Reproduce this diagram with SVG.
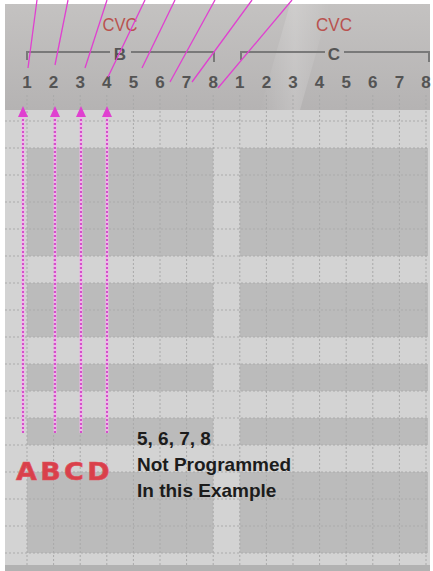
<svg xmlns="http://www.w3.org/2000/svg" width="433" height="571" viewBox="0 0 433 571">
<defs>
<linearGradient id="hdr" x1="0" y1="0" x2="0" y2="1">
<stop offset="0" stop-color="#c4c2c1"/>
<stop offset="1" stop-color="#b5b3b3"/>
</linearGradient>
<linearGradient id="streak" x1="0" y1="0" x2="1" y2="0">
<stop offset="0" stop-color="#ffffff" stop-opacity="0"/>
<stop offset="0.5" stop-color="#ffffff" stop-opacity="0.18"/>
<stop offset="1" stop-color="#ffffff" stop-opacity="0"/>
</linearGradient>
</defs>
<style>
.light{fill:#d3d3d3}
.dark{fill:#bbbbbb}
.vg{stroke:#a9a9a9;stroke-width:1;stroke-dasharray:2 2;fill:none}
.hg{stroke:#ababab;stroke-width:1;stroke-dasharray:2 2;fill:none}
.num{font-family:"Liberation Sans",Arial,sans-serif;font-size:17px;font-weight:bold;fill:#545454;text-anchor:middle}
.cvc{font-family:"Liberation Sans",Arial,sans-serif;font-size:18px;fill:#b9524f;text-anchor:middle}
.grp{font-family:"Liberation Sans",Arial,sans-serif;font-size:17px;font-weight:bold;fill:#555555;text-anchor:middle}
.brk{stroke:#797979;stroke-width:2;fill:none}
.note{font-family:"Liberation Sans",Arial,sans-serif;font-size:19px;font-weight:bold;fill:#1c1c1c}
.pink{stroke:#e040d0;stroke-width:1.3;fill:none}
.halo{stroke:#f0b6ea;stroke-width:3;fill:none}
.dash{stroke:#cf36c3;stroke-width:1.6;stroke-dasharray:2 2;fill:none}
.arrowhead{fill:#e040d0}
.lcd{font-family:"DejaVu Sans",sans-serif;font-size:24px;font-weight:bold;fill:#d9404b;stroke:#e0525c;stroke-width:0.6;letter-spacing:3px}
</style>
<rect x="0" y="0" width="433" height="571" fill="#ffffff"/>
<g id="panel">
<rect x="5" y="4" width="425" height="567" class="light"/>
<rect x="5" y="4" width="425" height="106" fill="url(#hdr)"/>
<polygon points="290,4 330,4 300,110 260,110" fill="url(#streak)"/>
<g id="dark-rows">
<rect x="27" y="148" width="186.2" height="108" class="dark"/>
<rect x="239.8" y="148" width="188.2" height="108" class="dark"/>
<rect x="27" y="283" width="186.2" height="54" class="dark"/>
<rect x="239.8" y="283" width="188.2" height="54" class="dark"/>
<rect x="27" y="364" width="186.2" height="27" class="dark"/>
<rect x="239.8" y="364" width="188.2" height="27" class="dark"/>
<rect x="27" y="418" width="186.2" height="27" class="dark"/>
<rect x="239.8" y="418" width="188.2" height="27" class="dark"/>
<rect x="27" y="472" width="186.2" height="81" class="dark"/>
<rect x="239.8" y="472" width="188.2" height="81" class="dark"/>
</g>
<g id="grid-lines">
<path class="hg" d="M5,121H428 M5,148H428 M5,175H428 M5,202H428 M5,229H428 M5,256H428 M5,283H428 M5,310H428 M5,337H428 M5,364H428 M5,391H428 M5,418H428 M5,445H428 M5,472H428 M5,499H428 M5,526H428 M5,553H428"/>
<path class="vg" d="M27,95V565 M53.6,95V565 M80.2,95V565 M106.8,95V565 M133.4,95V565 M160,95V565 M186.6,95V565 M213.2,95V565 M239.8,95V565 M266.4,95V565 M293,95V565 M319.6,95V565 M346.2,95V565 M372.8,95V565 M399.4,95V565 M426,95V565"/>
</g>
<rect x="5" y="565" width="425" height="6" fill="#b2b2b2"/>
</g>
<g id="group-B">
<text class="cvc" x="120" y="31" textLength="35" lengthAdjust="spacingAndGlyphs">CVC</text>
<path class="brk" d="M27,60V52H110 M131,52H214V62"/>
<text class="grp" x="120" y="60">B</text>
</g>
<g id="group-C">
<text class="cvc" x="334" y="31" textLength="36" lengthAdjust="spacingAndGlyphs">CVC</text>
<path class="brk" d="M241,60V52H325 M344,52H429V62"/>
<text class="grp" x="334" y="60">C</text>
</g>
<g id="channel-numbers">
<text class="num" x="27" y="88">1</text>
<text class="num" x="53.6" y="88">2</text>
<text class="num" x="80.2" y="88">3</text>
<text class="num" x="106.8" y="88">4</text>
<text class="num" x="133.4" y="88">5</text>
<text class="num" x="160" y="88">6</text>
<text class="num" x="186.6" y="88">7</text>
<text class="num" x="213.2" y="88">8</text>
<text class="num" x="239.8" y="88">1</text>
<text class="num" x="266.4" y="88">2</text>
<text class="num" x="293" y="88">3</text>
<text class="num" x="319.6" y="88">4</text>
<text class="num" x="346.2" y="88">5</text>
<text class="num" x="372.8" y="88">6</text>
<text class="num" x="399.4" y="88">7</text>
<text class="num" x="426" y="88">8</text>
</g>
<g id="abcd">
<text class="lcd" x="16" y="480" textLength="97" lengthAdjust="spacingAndGlyphs">ABCD</text>
</g>
<g id="note">
<text class="note" x="137" y="445">5, 6, 7, 8</text>
<text class="note" x="137" y="471">Not Programmed</text>
<text class="note" x="137" y="497">In this Example</text>
</g>
<g id="connectors">
<line class="pink" x1="37" y1="0" x2="28" y2="68"/>
<line class="pink" x1="68" y1="0" x2="55" y2="65"/>
<line class="pink" x1="107" y1="0" x2="85" y2="68"/>
<line class="pink" x1="145" y1="0" x2="108" y2="77"/>
<line class="pink" x1="175" y1="0" x2="142" y2="68"/>
<line class="pink" x1="215" y1="0" x2="170" y2="82"/>
<line class="pink" x1="252" y1="0" x2="192" y2="82"/>
<line class="pink" x1="292" y1="0" x2="218" y2="88"/>
<g id="arrows">
<line class="halo" x1="23" y1="433" x2="23" y2="116"/>
<line class="halo" x1="55" y1="433" x2="55" y2="116"/>
<line class="halo" x1="81" y1="433" x2="81" y2="116"/>
<line class="halo" x1="107" y1="433" x2="107" y2="116"/>
<line class="dash" x1="23" y1="433" x2="23" y2="116"/>
<line class="dash" x1="55" y1="433" x2="55" y2="116"/>
<line class="dash" x1="81" y1="433" x2="81" y2="116"/>
<line class="dash" x1="107" y1="433" x2="107" y2="116"/>
<polygon class="arrowhead" points="23,106 28,117 18,117"/>
<polygon class="arrowhead" points="55,106 60,117 50,117"/>
<polygon class="arrowhead" points="81,106 86,117 76,117"/>
<polygon class="arrowhead" points="107,106 112,117 102,117"/>
</g>
</g>
</svg>
